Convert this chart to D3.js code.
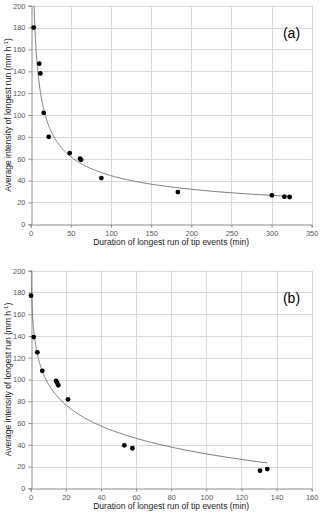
<!DOCTYPE html>
<html>
<head>
<meta charset="utf-8">
<script src="https://cdn.jsdelivr.net/npm/d3@7"></script>
<style>
  body { margin:0; padding:0; background:#fff; }
  svg text { font-family:"Liberation Sans", Arial, sans-serif; }
</style>
</head>
<body>
<svg id="chart" width="320" height="513"></svg>
<script>
// ---- data ----
// panel (a)
var durA = [3.7, 10.7, 12, 16.2, 22.4, 48.6, 61.5, 62.7, 88, 183.3, 300.5, 316, 322.5];
var intA = [180, 147, 138, 102, 80, 65.2, 60, 59, 42.3, 29.5, 26.5, 25.3, 25];
// power trendline y = a * x^b
var trendA = { a: 393, b: -0.473 };

// panel (b)
var durB = [0.2, 1.7, 3.8, 6.6, 14.4, 15, 15.7, 21.2, 53.3, 57.9, 130.6, 134.7];
var intB = [177, 139, 125, 108, 98.6, 97, 94.7, 81.8, 39.5, 36.8, 16.2, 17.7];
// log trendline y = a + b * ln(x)
var trendB = { a: 160.6, b: -28.0 };

var yTicks = [0, 20, 40, 60, 80, 100, 120, 140, 160, 180, 200];
var xTicksA = [0, 50, 100, 150, 200, 250, 300, 350];
var xTicksB = [0, 20, 40, 60, 80, 100, 120, 140, 160];

var xTitle = "Duration of longest run of tip events (min)";

var svg = d3.select('#chart');

function panel(cfg){
	var x = d3.scaleLinear().domain(cfg.xDomain).range([30.7, 311.7]);
	var y = d3.scaleLinear().domain([0, 200]).range([cfg.bottom, cfg.top]);
	var g = svg.append('g');

	// grid
	g.append('g').selectAll('line.hg').data(yTicks.slice(1)).enter()
		.append('line')
		.attr('x1', x.range()[0]).attr('x2', x.range()[1])
		.attr('y1', function(d){return Math.round(y(d))+0.5;})
		.attr('y2', function(d){return Math.round(y(d))+0.5;})
		.attr('stroke', '#d9d9d9').attr('stroke-width', 1.2);
	g.append('g').selectAll('line.vg').data(cfg.xTicks.slice(1)).enter()
		.append('line')
		.attr('y1', y(0)).attr('y2', y(200))
		.attr('x1', function(d){return Math.round(x(d))+0.5;})
		.attr('x2', function(d){return Math.round(x(d))+0.5;})
		.attr('stroke', '#d9d9d9').attr('stroke-width', 1);

	// axes
	var yAxis = d3.axisLeft(y).tickValues(yTicks).tickSize(3).tickPadding(3);
	var xAxis = d3.axisBottom(x).tickValues(cfg.xTicks).tickSize(3).tickPadding(3);
	var ya = g.append('g').attr('transform', 'translate(' + (Math.round(x.range()[0])+0.5) + ',0)').call(yAxis);
	var xa = g.append('g').attr('transform', 'translate(0,' + (Math.round(y(0))+0.5) + ')').call(xAxis);
	[ya, xa].forEach(function(a){
		a.select('.domain').attr('stroke', '#8c8c8c');
		a.selectAll('.tick line').attr('stroke', '#8c8c8c');
		a.selectAll('.tick text').attr('fill', '#595959').style('font-size', '7.5px');
	});

	// clip for trendline
	var clipId = 'clip' + cfg.name;
	svg.append('clipPath').attr('id', clipId).append('rect')
		.attr('x', x.range()[0]).attr('y', y(200))
		.attr('width', x.range()[1]-x.range()[0]).attr('height', y(0)-y(200));

	var xs = d3.range(0, 301).map(function(i){
		var lo = Math.log(d3.min(cfg.xs)), hi = Math.log(d3.max(cfg.xs));
		return Math.exp(lo + (hi-lo)*i/300);
	});
	var line = d3.line().x(function(d){return x(d);}).y(function(d){return y(cfg.trend(d));});
	g.append('path').datum(xs)
		.attr('clip-path', 'url(#' + clipId + ')')
		.attr('d', line)
		.attr('fill', 'none').attr('stroke', '#6e6e6e').attr('stroke-width', 0.9);

	// points
	g.append('g').selectAll('circle').data(cfg.xs).enter()
		.append('circle')
		.attr('cx', function(d){return x(d);})
		.attr('cy', function(d,i){return y(cfg.ys[i]);})
		.attr('r', 2.4).attr('fill', '#000');

	// titles
	g.append('text').attr('x', 171.2).attr('y', y(0)+20.5)
		.attr('text-anchor', 'middle').style('font-size', '8.5px').attr('fill', '#222')
		.text(xTitle);
	var yt = g.append('text')
		.attr('transform', 'translate(11,' + ((y(0)+y(200))/2) + ') rotate(-90)')
		.attr('text-anchor', 'middle').style('font-size', '8.5px').attr('fill', '#222');
	yt.append('tspan').text('Average intensity of longest run (mm h');
	yt.append('tspan').attr('dy', -3).style('font-size', '6px').text('-1');
	yt.append('tspan').attr('dy', 3).text(')');

	g.append('text').attr('x', 291.5).attr('y', y(200)+32)
		.attr('text-anchor', 'middle').style('font-size', '14px').attr('fill', '#000')
		.text(cfg.label);
}

panel({
	name: 'a', label: '(a)', xDomain: [0, 350], xTicks: xTicksA,
	top: 5.7, bottom: 224.3, xs: durA, ys: intA,
	trend: function(v){return trendA.a * Math.pow(v, trendA.b);}
});
panel({
	name: 'b', label: '(b)', xDomain: [0, 160], xTicks: xTicksB,
	top: 270.7, bottom: 488.3, xs: durB, ys: intB,
	trend: function(v){return trendB.a + trendB.b * Math.log(v);}
});
</script>
</body>
</html>
